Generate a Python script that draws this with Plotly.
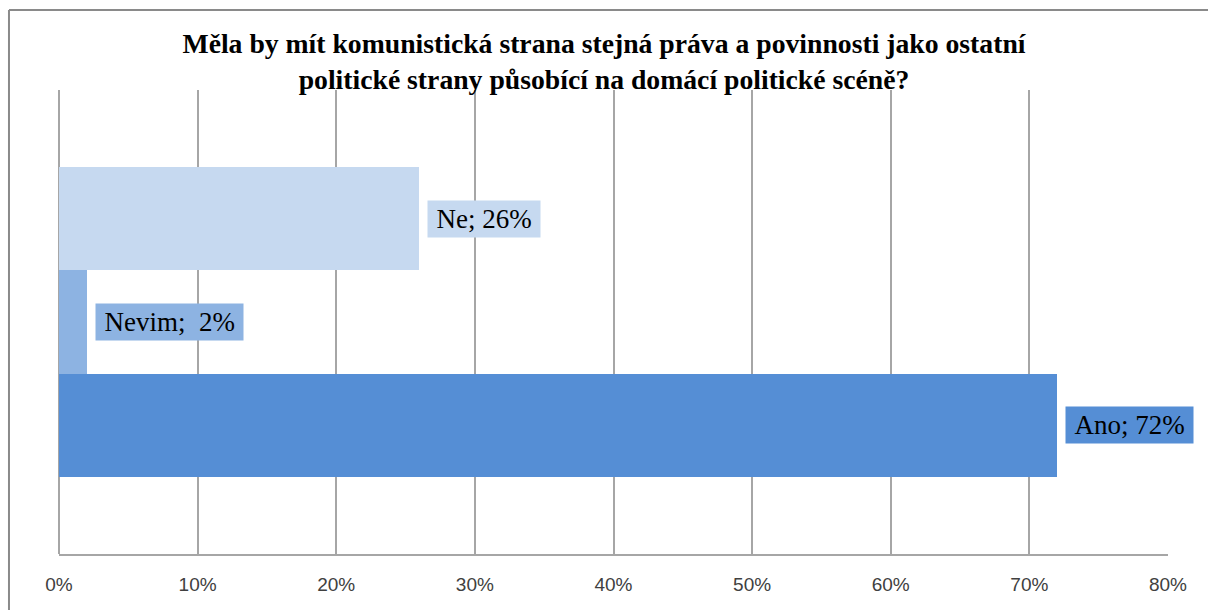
import plotly.graph_objects as go

categories = ["Ano", "Nevim", "Ne"]
values = [72, 2, 26]
label_texts = ["Ano; 72%", "Nevim;  2%", "Ne; 26%"]
colors = ["#558ed5", "#8db3e2", "#c6d9f0"]
tick_vals = [0, 10, 20, 30, 40, 50, 60, 70, 80]
tick_text = ["0%", "10%", "20%", "30%", "40%", "50%", "60%", "70%", "80%"]
title_text = ("Měla by mít komunistická strana stejná práva a povinnosti jako ostatní<br>"
              "politické strany působící na domácí politické scéně?")

fig = go.Figure()
fig.add_trace(go.Bar(
    y=categories, x=values, orientation="h",
    marker=dict(color=colors, line=dict(width=0)),
    hoverinfo="skip", showlegend=False,
))

for cat, val, txt, col in zip(categories, values, label_texts, colors):
    fig.add_annotation(
        x=val, y=cat, xref="x", yref="y",
        text="\u2009" + txt + "\u2009",
        showarrow=False, xanchor="left", yanchor="middle", xshift=8,
        bgcolor=col, borderpad=3,
        font=dict(family="Liberation Serif", size=27, color="#000000"),
    )

# outer chart frame: only left and top edges are inside the image
frame = dict(color="#8a8a8a", width=2)
fig.add_shape(type="line", xref="paper", yref="paper",
              x0=-0.0451, x1=-0.0451, y0=-0.2, y1=1.1724, line=frame, layer="below")
fig.add_shape(type="line", xref="paper", yref="paper",
              x0=-0.0451, x1=1.1, y0=1.1724, y1=1.1724, line=frame, layer="below")

fig.update_layout(
    width=1208, height=610,
    margin=dict(l=59, r=40, t=90, b=56),
    paper_bgcolor="white", plot_bgcolor="white",
    bargap=0,
    title=dict(text=title_text, x=0.5, xref="container", xanchor="center",
               y=0.913, yref="container", yanchor="top",
               font=dict(family="Liberation Serif", size=27.7, color="#000000", weight="bold")),
    xaxis=dict(range=[0, 80], tickvals=tick_vals, ticktext=tick_text,
               showgrid=True, gridcolor="#a6a6a6", gridwidth=2,
               zeroline=True, zerolinecolor="#a6a6a6", zerolinewidth=2,
               showline=True, linecolor="#a6a6a6", linewidth=2,
               ticks="", ticklabelstandoff=12,
               tickfont=dict(family="Liberation Sans", size=19, color="#404040"),
               fixedrange=True),
    yaxis=dict(range=[-1.25, 3.25], showticklabels=False, showgrid=False,
               zeroline=False, showline=False, ticks="", fixedrange=True),
)

fig.write_html("out.html", config={"displayModeBar": False},
               post_script="document.body.style.margin='0';document.body.style.overflow='hidden';")
